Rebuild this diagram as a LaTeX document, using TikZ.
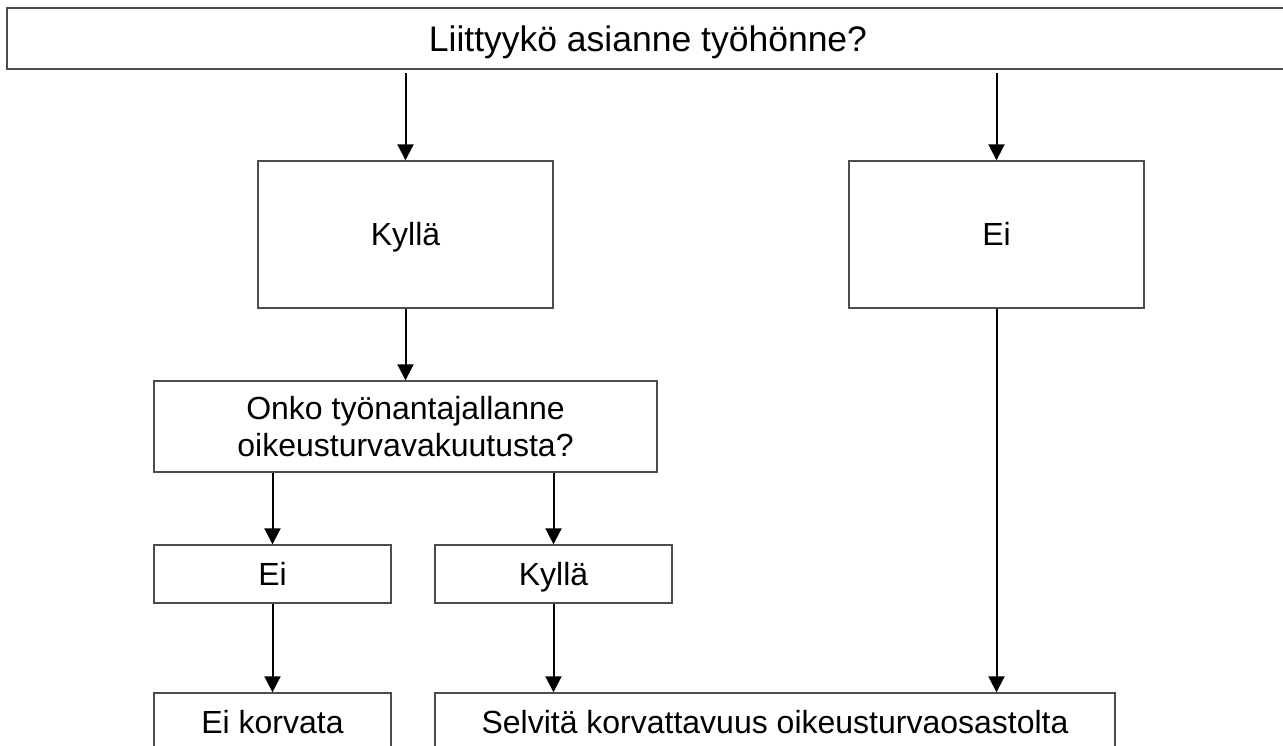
\documentclass[tikz,border=0pt]{standalone}
\usepackage{fontspec}
\setmainfont{Liberation Sans}
\usetikzlibrary{positioning, calc, arrows.meta}
\tikzset{
  box/.style={draw=black!70, line width=1.4pt, rectangle, inner sep=0pt, align=center, font=\fontsize{32}{37}\selectfont},
  line/.style={text height=26pt, text depth=3pt},
  arr/.style={line width=2pt, -{Triangle[width=16pt,length=16pt]}}
}
\begin{document}
\begin{tikzpicture}[x=1pt,y=-1pt]%TODO Kaavio: korvataanko oikeusturva?
  \useasboundingbox (0,0) rectangle (1283,746);
  \node[box, minimum width=1282, minimum height=61, font=\fontsize{35.5}{40}\selectfont, text height=28.7pt, text depth=3.3pt] (frage) at (648,38.5) {Liittyykö asianne työhönne?};
  \node[box, line, minimum width=295, minimum height=147] (kylla) at (405.5,234.5) {Kyllä};
  \node[box, line, minimum width=295, minimum height=147] (ei) at (996.5,234.5) {Ei};
  \node[box, minimum width=503, minimum height=91] (onko) at (405.5,426.5) {Onko työnantajallanne\\oikeusturvavakuutusta?};
  \node[box, line, minimum width=237, minimum height=58] (eiv) at (272.5,574) {Ei};
  \node[box, line, minimum width=237, minimum height=58] (kyllav) at (553.5,574) {Kyllä};
  \node[box, line, minimum width=237, minimum height=58] (eikorv) at (272.5,722) {Ei korvata};
  \node[box, line, minimum width=680, minimum height=58] (selv) at (775,722) {Selvitä korvattavuus oikeusturvaosastolta};
  \draw[arr, shorten <=3pt] (frage.south -| kylla.north) -- (kylla.north);
  \draw[arr, shorten <=3pt] (frage.south -| ei.north) -- (ei.north);
  \draw[arr] (kylla.south) -- (kylla.south |- onko.north);
  \draw[arr] (ei.south) -- (ei.south |- selv.north);
  \draw[arr] (onko.south -| eiv.north) -- (eiv.north);
  \draw[arr] (onko.south -| kyllav.north) -- (kyllav.north);
  \draw[arr] (eiv.south) -- (eikorv.north);
  \draw[arr] (kyllav.south) -- (kyllav.south |- selv.north);
\end{tikzpicture}
\end{document}
